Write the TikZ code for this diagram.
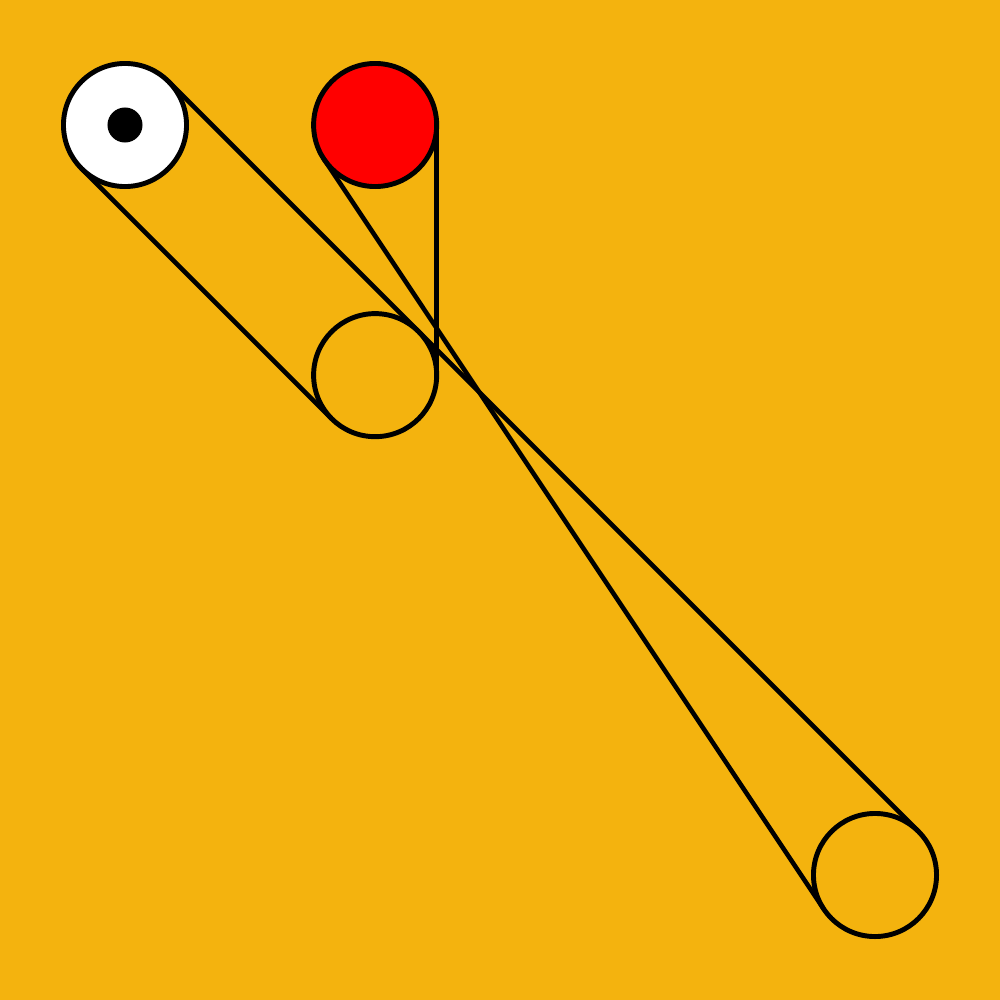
\documentclass[tikz,border=0pt]{standalone}
\usepackage{tikz}
\usetikzlibrary{positioning}
\definecolor{beltbg}{RGB}{244,179,14}
\tikzset{Pulley/.style={%
    shape=circle,%
    draw=black,%
    fill=none,%
    minimum size=1.23cm,%
    line width=1.4pt,%
    inner sep=0pt,%
    outer sep=0pt,%
}}
\tikzset{DrivePulley/.style={%
    Pulley,%
    fill=white,%
}}
\tikzset{RedPulley/.style={%
    Pulley,%
    fill=red,%
}}
\tikzset{Axle/.style={%
    shape=circle,%
    fill=black,%
    minimum size=0.35cm,%
    inner sep=0pt,%
}}
\tikzset{Belt/.style={%
    line width=1.3pt,%
    line cap=round,%
}}
\begin{document}
\begin{tikzpicture}[x=0.01cm,y=-0.01cm]
    \fill[beltbg] (0,0) rectangle (1000,1000);
    \useasboundingbox (0,0) rectangle (1000,1000);

    \node[DrivePulley] (p1) at (125,125) {};
    \node[Axle] (a1) at (p1.center) {};
    \node[RedPulley, right=1.27cm of p1] (p2) {};
    \node[Pulley, below=1.27cm of p2] (p3) {};
    \node[Pulley] (p4) at (875,875) {};

    \draw[Belt] (p1.45) -- (p4.45);
    \draw[Belt] (p1.225) -- (p3.225);
    \draw[Belt] (p2.0) -- (p3.0);
    \draw[Belt] (p2.213.69) -- (p4.213.69);
\end{tikzpicture}
\end{document}
